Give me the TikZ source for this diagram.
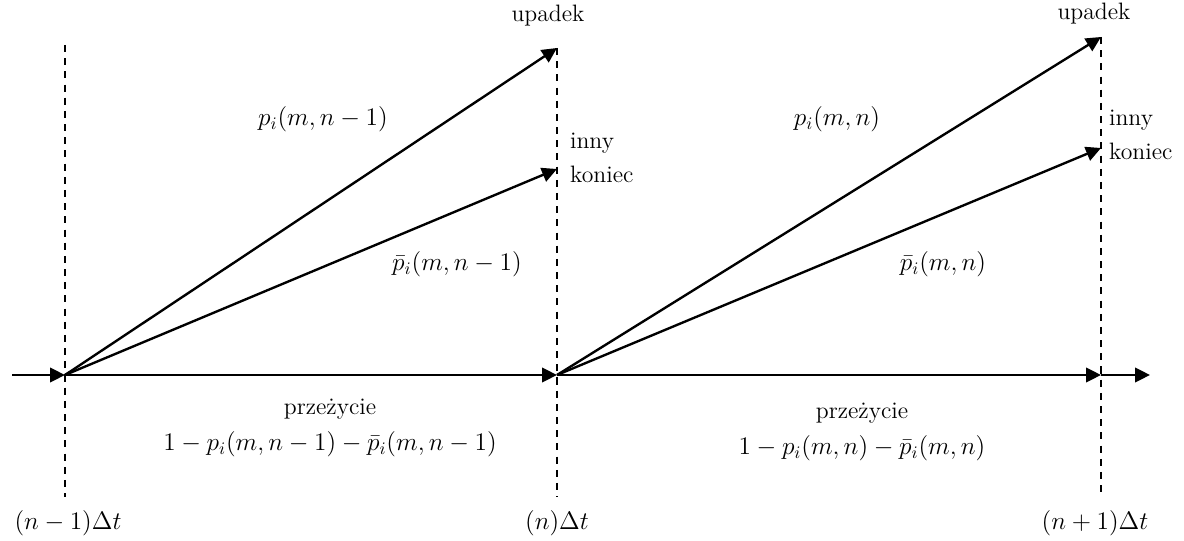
\documentclass[tikz,border=0pt]{standalone}
\usepackage{fontspec}
\usepackage{tikz}
\usetikzlibrary{arrows.meta,positioning}
\tikzset{
  arr/.style={-{Triangle[length=3mm,width=2.9mm]},line width=1.35pt},
  timeline/.style={line width=0.8pt,dashed,dash pattern=on 4pt off 3.5pt},
  lab/.style={font=\rmfamily\fontsize{13.5}{16}\selectfont,inner sep=1pt},
  mlab/.style={font=\rmfamily\fontsize{14}{17}\selectfont,inner sep=1pt},
  sidelab/.style={lab,anchor=west,align=left}
}

\begin{document}
\begin{tikzpicture}[x=0.2mm,y=-0.2mm]
\useasboundingbox (0,0) rectangle (1184,541);

% time points
\coordinate (start) at (12,375);
\coordinate (tA) at (65,375);
\coordinate (tB) at (557,375);
\coordinate (tC) at (1101,375);
\coordinate (end) at (1150,375);

% ends of the branches
\coordinate (upB) at (557,48);
\coordinate (otB) at (557,169);
\coordinate (upC) at (1101,37);
\coordinate (otC) at (1101,148);

% dashed time lines
\draw[timeline] (65,45)--(65,497);
\draw[timeline] (upB)--(557,497);
\draw[timeline] (upC)--(1101,497);

% survival axis
\draw[arr] (start)--(tA);
\draw[arr] (tA)--(tB);
\draw[arr] (tB)--(tC);
\draw[arr] (tC)--(end);

% branches
\draw[arr] (tA)--(upB);
\draw[arr] (tA)--(otB);
\draw[arr] (tB)--(upC);
\draw[arr] (tB)--(otC);

% labels, first step
\node[lab] (upadekB) at (548,16) {upadek};
\node[sidelab] (innyB) at (568,143) {inny};
\node[sidelab] (koniecB) at (568,174) {koniec};
\node[mlab] (pB) at (323,119) {$p_i(m,n-1)$};
\node[mlab] (pbarB) at (457,264) {$\bar{p}_i(m,n-1)$};
\node[lab] (przezB) at (330,409) {przeżycie};
\node[mlab] (restB) at (330,444) {$1-p_i(m,n-1)-\bar{p}_i(m,n-1)$};

% labels, second step
\node[lab] (upadekC) at (1094,14) {upadek};
\node[sidelab] (innyC) at (1107,120) {inny};
\node[sidelab] (koniecC) at (1107,151) {koniec};
\node[mlab] (pC) at (837,119) {$p_i(m,n)$};
\node[mlab] (pbarC) at (943,264) {$\bar{p}_i(m,n)$};
\node[lab] (przezC) at (862,413) {przeżycie};
\node[mlab] (restC) at (862,448) {$1-p_i(m,n)-\bar{p}_i(m,n)$};

% time marks
\node[mlab] (timeA) at (68,523) {$(n-1)\Delta t$};
\node[mlab] (timeB) at (557,523) {$(n)\Delta t$};
\node[mlab] (timeC) at (1095,523) {$(n+1)\Delta t$};
\end{tikzpicture}
\end{document}
